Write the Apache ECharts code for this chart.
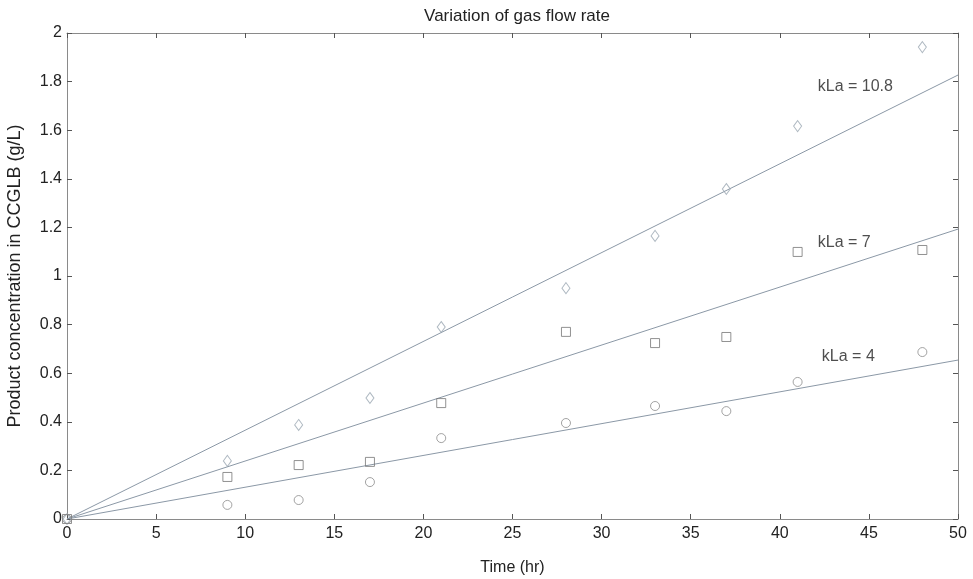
<!DOCTYPE html>
<html><head><meta charset="utf-8">
<script src="https://cdn.jsdelivr.net/npm/echarts@6/dist/echarts.min.js"></script>
<style>html,body{margin:0;padding:0;background:#fff;}#c{width:973px;height:579px;}</style>
</head><body><div id="c"></div>
<script>
var times = [0, 9, 13, 17, 21, 28, 33, 37, 41, 48];
var kla108 = [0, 0.239, 0.387, 0.498, 0.79, 0.95, 1.165, 1.358, 1.617, 1.942];
var kla7   = [0, 0.173, 0.222, 0.235, 0.477, 0.77, 0.724, 0.749, 1.099, 1.107];
var kla4   = [0, 0.058, 0.078, 0.152, 0.333, 0.395, 0.465, 0.444, 0.564, 0.687];
var fitX = [0, 50];
var fit108 = [0, 1.827];
var fit7 = [0, 1.193];
var fit4 = [0, 0.654];
var labelText = ['kLa = 10.8', 'kLa = 7', 'kLa = 4'];
var labelX = [42.13, 42.13, 42.36];
var labelY = [1.778, 1.136, 0.667];

function pairs(xs, ys){ return xs.map(function(x,i){return [x, ys[i]];}); }

var axisCol = '#8a8a8a';
var font = 'Liberation Sans, Arial, sans-serif';
var chart = echarts.init(document.getElementById('c'));
var lineCol = '#8b98a6';

var option = {
  backgroundColor: '#fff',
  animation: false,
  title: { text: 'Variation of gas flow rate', left: 512, textAlign: 'center', top: 3,
    textStyle: { fontFamily: font, fontSize: 17, fontWeight: 'normal', color: '#222' } },
  grid: { left: 67, right: 15, top: 33, bottom: 60, containLabel: false, outerBoundsMode: 'none' },
  xAxis: [{
    type: 'value', min: 0, max: 50, interval: 5,
    name: 'Time (hr)', nameLocation: 'middle', nameGap: 41,
    nameTextStyle: { fontFamily: font, fontSize: 16, color: '#222' },
    axisLine: { onZero: false, lineStyle: { color: axisCol, width: 1 } },
    axisTick: { inside: true, length: 5, lineStyle: { color: '#555' } },
    axisLabel: { fontFamily: font, fontSize: 16, color: '#222', margin: 7 },
    splitLine: { show: false }
  }, {
    type: 'value', min: 0, max: 50, interval: 5, position: 'top',
    axisLine: { onZero: false, lineStyle: { color: axisCol, width: 1 } },
    axisTick: { inside: true, length: 5, lineStyle: { color: '#555' } },
    axisLabel: { show: false }, splitLine: { show: false }
  }],
  yAxis: [{
    type: 'value', min: 0, max: 2, interval: 0.2,
    name: 'Product concentration in CCGLB (g/L)', nameLocation: 'middle', nameGap: 43,
    nameTextStyle: { fontFamily: font, fontSize: 18, color: '#222' },
    axisLine: { show: true, onZero: false, lineStyle: { color: axisCol, width: 1 } },
    axisTick: { show: true, inside: true, length: 5, lineStyle: { color: '#555' } },
    axisLabel: { fontFamily: font, fontSize: 16, color: '#222', margin: 5,
      formatter: function(v){ return String(Math.round(v*10)/10); } },
    splitLine: { show: false }
  }, {
    type: 'value', min: 0, max: 2, interval: 0.2, position: 'right',
    axisLine: { show: true, onZero: false, lineStyle: { color: axisCol, width: 1 } },
    axisTick: { show: true, inside: true, length: 5, lineStyle: { color: '#555' } },
    axisLabel: { show: false }, splitLine: { show: false }
  }],
  series: [
    { type: 'line', data: pairs(fitX, fit108), symbol: 'none', lineStyle: { color: lineCol, width: 1 }, z: 2 },
    { type: 'line', data: pairs(fitX, fit7), symbol: 'none', lineStyle: { color: lineCol, width: 1 }, z: 2 },
    { type: 'line', data: pairs(fitX, fit4), symbol: 'none', lineStyle: { color: lineCol, width: 1 }, z: 2 },
    { type: 'scatter', data: pairs(times, kla108), symbol: 'diamond', symbolSize: [8, 11],
      itemStyle: { color: 'rgba(255,255,255,0)', borderColor: '#9aa6b2', borderWidth: 1 }, z: 3 },
    { type: 'scatter', data: pairs(times, kla7), symbol: 'rect', symbolSize: 9,
      itemStyle: { color: 'rgba(255,255,255,0)', borderColor: '#777', borderWidth: 1 }, z: 3 },
    { type: 'scatter', data: pairs(times, kla4), symbol: 'circle', symbolSize: 9,
      itemStyle: { color: 'rgba(255,255,255,0)', borderColor: '#8c8c8c', borderWidth: 1 }, z: 3 },
    { type: 'scatter', symbolSize: 0, silent: true,
      data: labelX.map(function(x,i){ return { value: [x, labelY[i]], label: { formatter: labelText[i] } }; }),
      label: { show: true, position: 'right', distance: 0, fontFamily: font, fontSize: 16, color: '#222' }, z: 4 }
  ]
};
chart.setOption(option);
</script></body></html>
